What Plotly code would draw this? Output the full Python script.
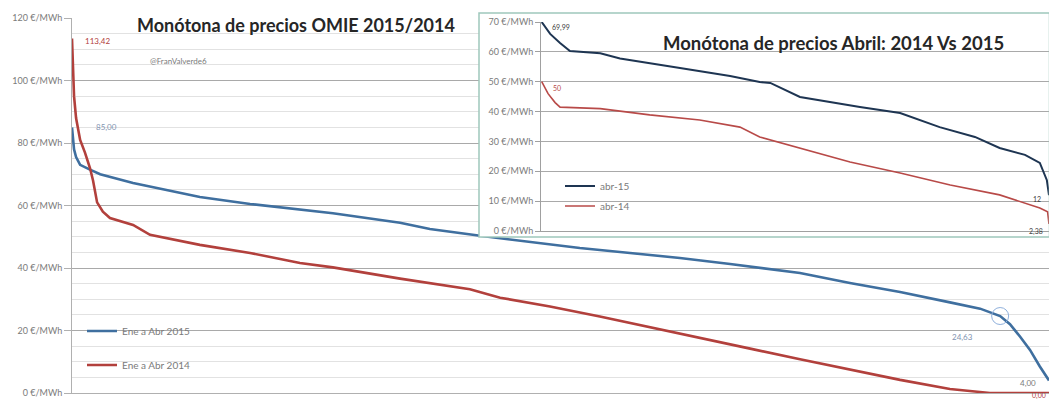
import plotly.graph_objects as go

# ---------------- data ----------------
# Main chart: ranked hours Jan-Apr (0..2880) and price (€/MWh)
hours_2015 = [0, 3, 6, 12, 24, 53, 83, 180, 280, 377, 525, 769, 967, 1055, 1203, 1350,
              1497, 1645, 1792, 1940, 2146, 2293, 2441, 2588, 2677, 2736, 2765, 2795,
              2824, 2853, 2880]
price_2015 = [85.0, 81, 78, 75.5, 73, 71.5, 70, 67.2, 65, 62.7, 60.5, 57.5, 54.5, 52.5, 50.3,
              48.3, 46.4, 44.8, 43.2, 41.3, 38.4, 35.2, 32.3, 29, 27, 24.63, 22, 18,
              13.8, 8.5, 4.0]
hours_2014 = [0, 3, 6, 12, 24, 38, 53, 62, 74, 91, 112, 180, 230, 377, 525, 672, 769, 967,
              1173, 1262, 1409, 1556, 1704, 1851, 1999, 2146, 2293, 2441, 2588, 2706, 2880]
price_2014 = [113.42, 104, 95, 88, 81, 77, 72, 68, 61, 58, 56, 53.8, 50.6, 47.4, 44.8, 41.6,
              40.2, 36.6, 33.2, 30.5, 27.7, 24.5, 21, 17.5, 14.2, 10.8, 7.5, 4.2, 1.3, 0.0, 0.0]

# Inset: ranked hours of April (0..720)
hours_abr15 = [1, 13, 27, 41, 84, 112, 197, 268, 310, 325, 367, 452, 509, 565, 615, 650,
               686, 707, 717, 720]
price_abr15 = [69.99, 66, 63, 60.3, 59.5, 57.8, 54.6, 51.9, 49.9, 49.6, 44.9, 41.5, 39.5,
               34.8, 31.5, 27.8, 25.5, 22.8, 17, 12]
hours_abr14 = [1, 10, 20, 27, 84, 154, 225, 282, 310, 367, 438, 509, 580, 650, 707, 718, 720]
price_abr14 = [50, 46, 43, 41.5, 41, 38.9, 37.2, 34.8, 31.5, 27.8, 23.1, 19.4, 15.4, 12.1,
               7.7, 6.4, 2.38]

main_tickvals = [0, 20, 40, 60, 80, 100, 120]
main_ticktext = ["0 €/MWh", "20 €/MWh", "40 €/MWh", "60 €/MWh", "80 €/MWh", "100 €/MWh", "120 €/MWh"]
inset_tickvals = [0, 10, 20, 30, 40, 50, 60, 70]
inset_ticktext = ["0 €/MWh", "10 €/MWh", "20 €/MWh", "30 €/MWh", "40 €/MWh", "50 €/MWh",
                  "60 €/MWh", "70 €/MWh"]

names_main = ["Ene a Abr 2015", "Ene a Abr 2014"]
names_inset = ["abr-15", "abr-14"]

# ---------------- styling ----------------
W, H = 1049, 401
FONT = "Lato"
BLUE = "#3f6f9f"
RED = "#b2403c"
NAVY = "#1e3552"
RED2 = "#b84a48"
TXT = "#7a7a7a"


def px_x(p):
    return p / W


def px_y(p):
    return (H - p) / H


fig = go.Figure()

fig.add_trace(go.Scatter(x=hours_2015, y=price_2015, mode="lines", name=names_main[0],
                         line=dict(color=BLUE, width=2.6), xaxis="x", yaxis="y",
                         legend="legend"))
fig.add_trace(go.Scatter(x=hours_2014, y=price_2014, mode="lines", name=names_main[1],
                         line=dict(color=RED, width=2.6), xaxis="x", yaxis="y",
                         legend="legend2"))
fig.add_trace(go.Scatter(x=[hours_2015[25]], y=[price_2015[25]], mode="markers",
                         marker=dict(symbol="circle-open", size=17, color="#8fb0dc",
                                     line=dict(color="#8fb0dc", width=1)),
                         showlegend=False, hoverinfo="skip", xaxis="x", yaxis="y"))

# white box behind the inset (covers main chart)
fig.add_trace(go.Scatter(x=[0, 1, 1, 0, 0], y=[0, 0, 1, 1, 0], mode="lines", fill="toself",
                         fillcolor="white", line=dict(width=0, color="white"),
                         showlegend=False, hoverinfo="skip", xaxis="x2", yaxis="y2"))

fig.add_trace(go.Scatter(x=hours_abr15, y=price_abr15, mode="lines", name=names_inset[0],
                         line=dict(color=NAVY, width=2), xaxis="x3", yaxis="y3",
                         legend="legend3"))
fig.add_trace(go.Scatter(x=hours_abr14, y=price_abr14, mode="lines", name=names_inset[1],
                         line=dict(color=RED2, width=1.6), xaxis="x3", yaxis="y3",
                         legend="legend4"))

axis_font = dict(family=FONT, size=9, color=TXT)
leg_font = dict(family=FONT, size=10, color=TXT)

fig.update_layout(
    width=W, height=H,
    margin=dict(l=0, r=0, t=0, b=0, autoexpand=False),
    paper_bgcolor="white", plot_bgcolor="white",
    font=dict(family=FONT, color=TXT),
    xaxis=dict(domain=[px_x(72), 1.0], range=[0, 2880], anchor="y", showticklabels=False,
               showgrid=False, zeroline=False, showline=True, linecolor="#b0b0b0",
               ticks="", fixedrange=True, automargin=False),
    yaxis=dict(domain=[px_y(393), px_y(18)], range=[0, 120], anchor="x", tickmode="array",
               tickvals=main_tickvals, ticktext=main_ticktext, tickfont=axis_font,
               showgrid=True, gridcolor="#a9a9a9", gridwidth=1, zeroline=False,
               showline=True, linecolor="#b0b0b0", ticks="outside", ticklen=7,
               tickcolor="#b0b0b0", automargin=False,
               minor=dict(dtick=5, tick0=0, showgrid=True, gridcolor="#e2e2e2",
                          gridwidth=1, ticks=""),
               fixedrange=True),
    xaxis2=dict(domain=[px_x(479), 1.0], range=[0, 1], anchor="y2", visible=False,
                fixedrange=True, automargin=False),
    yaxis2=dict(domain=[px_y(237), px_y(13)], range=[0, 1], anchor="x2", visible=False,
                fixedrange=True, automargin=False),
    xaxis3=dict(domain=[px_x(541), 1.0], range=[0, 720], anchor="y3", showticklabels=False,
                showgrid=False, zeroline=False, showline=True, linecolor="#a0a0a0",
                ticks="", fixedrange=True, automargin=False),
    yaxis3=dict(domain=[px_y(231), px_y(22)], range=[0, 70], anchor="x3", tickmode="array",
                tickvals=inset_tickvals, ticktext=inset_ticktext, tickfont=axis_font,
                showgrid=True, gridcolor="#a9a9a9", gridwidth=1, zeroline=False,
                showline=True, linecolor="#a0a0a0", ticks="outside", ticklen=5,
                tickcolor="#a0a0a0", fixedrange=True, automargin=False),
    legend=dict(x=px_x(82), y=px_y(331), xanchor="left", yanchor="middle",
                bgcolor="rgba(0,0,0,0)", font=leg_font, itemwidth=30),
    legend2=dict(x=px_x(82), y=px_y(365), xanchor="left", yanchor="middle",
                 bgcolor="rgba(0,0,0,0)", font=leg_font, itemwidth=30),
    legend3=dict(x=px_x(560), y=px_y(186), xanchor="left", yanchor="middle",
                 bgcolor="rgba(0,0,0,0)", font=leg_font, itemwidth=30),
    legend4=dict(x=px_x(560), y=px_y(206), xanchor="left", yanchor="middle",
                 bgcolor="rgba(0,0,0,0)", font=leg_font, itemwidth=30),
    showlegend=True,
)

fig.add_shape(type="rect", xref="paper", yref="paper", x0=px_x(479), x1=px_x(1049.5),
              y0=px_y(237), y1=px_y(13), line=dict(color="#9ec7bc", width=1.5),
              fillcolor="rgba(0,0,0,0)", layer="above")

ann = []
ann.append(dict(text="<b>Monótona de precios OMIE 2015/2014</b>", x=px_x(296), y=px_y(25),
                xref="paper", yref="paper", xanchor="center", yanchor="middle",
                showarrow=False, font=dict(family=FONT, size=18, color="#262626")))
ann.append(dict(text="<b>Monótona de precios Abril: 2014 Vs 2015</b>", x=px_x(833), y=px_y(43),
                xref="paper", yref="paper", xanchor="center", yanchor="middle",
                showarrow=False, font=dict(family=FONT, size=18.5, color="#262626")))
ann.append(dict(text="@FranValverde6", x=px_x(148), y=px_y(61), xref="paper", yref="paper",
                xanchor="left", yanchor="middle", showarrow=False,
                font=dict(family=FONT, size=8, color=TXT)))
ann.append(dict(text="113,42", x=hours_2014[0], y=price_2014[0], xref="x", yref="y",
                xanchor="left", yanchor="middle", xshift=11, yshift=-2, showarrow=False,
                font=dict(family=FONT, size=8, color=RED)))
ann.append(dict(text="85,00", x=hours_2015[0], y=price_2015[0], xref="x", yref="y",
                xanchor="left", yanchor="middle", xshift=22, showarrow=False,
                font=dict(family=FONT, size=8, color="#7f93b0")))
ann.append(dict(text="24,63", x=hours_2015[25], y=price_2015[25], xref="x", yref="y",
                xanchor="right", yanchor="middle", xshift=-25, yshift=-21, showarrow=False,
                font=dict(family=FONT, size=8, color="#7f93b0")))
ann.append(dict(text="4,00", x=hours_2015[-1], y=price_2015[-1], xref="x", yref="y",
                xanchor="right", yanchor="middle", xshift=-11, yshift=-2, showarrow=False,
                font=dict(family=FONT, size=8, color=TXT)))
ann.append(dict(text="0,00", x=hours_2014[-1], y=price_2014[-1], xref="x", yref="y",
                xanchor="right", yanchor="middle", xshift=-1, yshift=-2, showarrow=False,
                font=dict(family=FONT, size=7, color=RED)))
ann.append(dict(text="69,99", x=hours_abr15[0], y=price_abr15[0], xref="x3", yref="y3",
                xanchor="left", yanchor="middle", xshift=8, yshift=-5, showarrow=False,
                font=dict(family=FONT, size=7, color="#404040")))
ann.append(dict(text="50", x=hours_abr14[0], y=price_abr14[0], xref="x3", yref="y3",
                xanchor="left", yanchor="middle", xshift=9, yshift=-6, showarrow=False,
                font=dict(family=FONT, size=7, color=RED2)))
ann.append(dict(text="12", x=hours_abr15[-1], y=price_abr15[-1], xref="x3", yref="y3",
                xanchor="right", yanchor="middle", xshift=-6, yshift=-4, showarrow=False,
                font=dict(family=FONT, size=7, color="#404040")))
ann.append(dict(text="2,38", x=hours_abr14[-1], y=price_abr14[-1], xref="x3", yref="y3",
                xanchor="right", yanchor="middle", xshift=-4, yshift=-8, showarrow=False,
                font=dict(family=FONT, size=7, color="#404040")))
fig.update_layout(annotations=ann)

fig.write_html("out.html", config={"displayModeBar": False},
               post_script="document.body.style.margin='0';document.body.style.overflow='hidden';")
